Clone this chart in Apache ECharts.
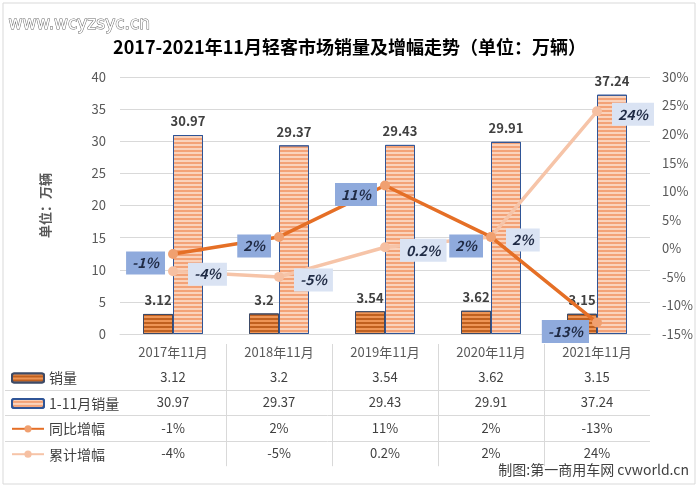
<!DOCTYPE html>
<html>
<head>
<meta charset="utf-8">
<script src="https://cdn.jsdelivr.net/npm/echarts@6/dist/echarts.min.js"></script>
<style>
  html, body { margin: 0; padding: 0; background: #fff; }
  #chart { width: 699px; height: 488px; }
</style>
</head>
<body>
<div id="chart"></div>
<script>
const categories = ['2017年11月', '2018年11月', '2019年11月', '2020年11月', '2021年11月']
const salesNov = [3.12, 3.2, 3.54, 3.62, 3.15]
const salesYtd = [30.97, 29.37, 29.43, 29.91, 37.24]
const yoyGrowth = [-1, 2, 11, 2, -13]
const ytdGrowth = [-4, -5, 0.2, 2, 24]
const seriesNames = ['销量', '1-11月销量', '同比增幅', '累计增幅']

const FONT = '"Noto Sans CJK SC", "Noto Sans", sans-serif'
const pct = v => v + '%'

const chart = echarts.init(document.getElementById('chart'))

const lineLabel = (bg, pos) => ({
  show: true,
  position: pos,
  distance: pos === 'left' ? 3 : 10,
  offset: pos === 'left' ? [0, 9] : [0, 3],
  formatter: p => pct(p.value),
  backgroundColor: bg,
  padding: [5, 6, 4, 6],
  color: '#1F2A44',
  fontSize: 14,
  fontStyle: 'italic',
  fontWeight: 'bold',
  fontFamily: FONT
})

chart.setOption({
  backgroundColor: '#fff',
  animation: false,
  textStyle: { fontFamily: FONT },
  title: {
    text: '2017-2021年11月轻客市场销量及增幅走势（单位：万辆）',
    left: 'center',
    top: 33,
    textStyle: { fontSize: 18, fontWeight: 'bold', color: '#000', fontFamily: FONT }
  },
  legend: {
    orient: 'vertical',
    left: 6,
    top: 366,
    itemWidth: 32,
    itemHeight: 9,
    itemGap: 11.4,
    textStyle: { fontSize: 14, color: '#404040', lineHeight: 14 },
    data: seriesNames
  },
  grid: { left: 120, right: 49, top: 77, bottom: 154 },
  xAxis: {
    type: 'category',
    data: categories,
    axisLine: { lineStyle: { color: '#D9D9D9' } },
    axisTick: { show: false },
    axisLabel: { color: '#595959', fontSize: 13, margin: 12 }
  },
  yAxis: [
    {
      type: 'value',
      min: 0,
      max: 40,
      interval: 5,
      name: '单位：万辆',
      nameLocation: 'middle',
      nameGap: 68,
      nameRotate: 90,
      nameTextStyle: { color: '#595959', fontSize: 13, fontWeight: 'bold' },
      axisLabel: { color: '#595959', fontSize: 13, margin: 14 },
      splitLine: { lineStyle: { color: '#D9D9D9' } }
    },
    {
      type: 'value',
      min: -15,
      max: 30,
      interval: 5,
      axisLabel: { color: '#595959', fontSize: 13, margin: 12, formatter: '{value}%' },
      splitLine: { show: false }
    }
  ],
  series: [
    {
      name: seriesNames[0],
      type: 'bar',
      data: salesNov,
      barWidth: 30,
      barGap: '0%',
      itemStyle: {
        color: '#C0601F',
        borderColor: '#3D4A66',
        borderWidth: 1,
        decal: { symbol: 'rect', symbolSize: 1, dashArrayX: [1, 0], dashArrayY: [1.5, 1.5], color: '#EE9556' }
      },
      label: { show: true, position: 'top', distance: 7, color: '#404040', fontSize: 13, fontWeight: 'bold' }
    },
    {
      name: seriesNames[1],
      type: 'bar',
      data: salesYtd,
      barWidth: 30,
      itemStyle: {
        color: '#F3A277',
        borderColor: '#2F5597',
        borderWidth: 1,
        decal: { symbol: 'rect', symbolSize: 1, dashArrayX: [1, 0], dashArrayY: [1.5, 1.5], color: '#FAD3BC' }
      },
      label: { show: true, position: 'top', distance: 7, color: '#404040', fontSize: 13, fontWeight: 'bold' }
    },
    {
      name: seriesNames[2],
      type: 'line',
      yAxisIndex: 1,
      data: yoyGrowth,
      symbol: 'circle',
      symbolSize: 10,
      lineStyle: { color: '#E56F26', width: 3.5 },
      itemStyle: { color: '#F0A070' },
      z: 5,
      label: lineLabel('#8FAADC', 'left')
    },
    {
      name: seriesNames[3],
      type: 'line',
      yAxisIndex: 1,
      data: ytdGrowth,
      symbol: 'circle',
      symbolSize: 10,
      lineStyle: { color: '#F6C4A8', width: 3.5 },
      itemStyle: { color: '#F6C0A2' },
      z: 4,
      label: lineLabel('#DAE3F3', 'right')
    }
  ]
})

// table under the chart, placed from the category axis
const rows = [salesNov, salesYtd, yoyGrowth.map(pct), ytdGrowth.map(pct)]
const axisY = chart.convertToPixel({ yAxisIndex: 0 }, 0)
const x0 = chart.convertToPixel({ xAxisIndex: 0 }, categories[0])
const x1 = chart.convertToPixel({ xAxisIndex: 0 }, categories[1])
const cellW = x1 - x0
const rowY = r => axisY + 43 + r * 25.4
const tableRight = x0 + cellW * (categories.length - 0.5)

const graphics = [
  {
    type: 'rect',
    shape: { x: 3, y: 3, width: 692, height: 481 },
    style: { fill: null, stroke: '#D9D9D9', lineWidth: 1 },
    silent: true
  },
  {
    type: 'text',
    left: 8,
    top: 16,
    style: {
      text: 'www.wcyzsyc.cn',
      fill: '#fff',
      fontSize: 17,
      fontFamily: 'DejaVu Sans',
      stroke: '#6a6a6a',
      lineWidth: 1
    }
  },
  {
    type: 'text',
    right: 10,
    top: 463,
    style: { text: '制图:第一商用车网 cvworld.cn', fill: '#404040', fontSize: 14, fontFamily: FONT }
  }
]

rows.forEach((row, r) => {
  row.forEach((v, i) => {
    graphics.push({
      type: 'text',
      x: chart.convertToPixel({ xAxisIndex: 0 }, categories[i]),
      y: rowY(r),
      style: { text: String(v), fill: '#404040', fontSize: 13, fontFamily: FONT, align: 'center', verticalAlign: 'middle' },
      silent: true
    })
  })
})

for (let r = 1; r < rows.length; r++) {
  const y = Math.round((rowY(r - 1) + rowY(r)) / 2) + 0.5
  graphics.push({
    type: 'line',
    shape: { x1: 5, y1: y, x2: tableRight, y2: y },
    style: { stroke: '#D9D9D9', lineWidth: 1 },
    silent: true
  })
}

for (let i = 1; i < categories.length; i++) {
  const x = Math.round(x0 + cellW * (i - 0.5)) + 0.5
  graphics.push({
    type: 'line',
    shape: { x1: x, y1: axisY + 10, x2: x, y2: rowY(rows.length - 1) + 13 },
    style: { stroke: '#D9D9D9', lineWidth: 1 },
    silent: true
  })
}

chart.setOption({ graphic: graphics })
</script>
</body>
</html>
